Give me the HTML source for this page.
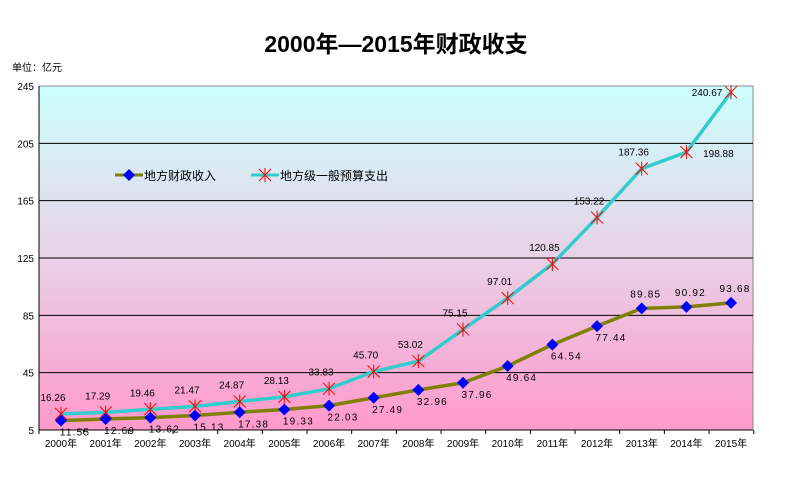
<!DOCTYPE html>
<html><head><meta charset="utf-8"><style>
body{margin:0;background:#fff;}
svg{display:block;font-family:"Liberation Sans","Noto Sans CJK SC",sans-serif;}
</style></head><body>
<svg id="s" width="792" height="486" xmlns="http://www.w3.org/2000/svg">
<defs><linearGradient id="g" x1="0" y1="0" x2="0" y2="1">
<stop offset="0" stop-color="#ccffff"/><stop offset="0.45" stop-color="#e6d6e8"/><stop offset="1" stop-color="#ff99cc"/></linearGradient></defs>
<text x="396" y="52" font-size="23" font-weight="bold" text-anchor="middle" font-family="'Liberation Sans','Noto Sans CJK SC',sans-serif">2000年—2015年财政收支</text>
<text x="12" y="71" font-size="10">单位：亿元</text>
<rect x="39" y="86" width="714" height="344" fill="url(#g)" stroke="#888"/>
</svg>
<script>
const NS="http://www.w3.org/2000/svg",s=document.getElementById('s');
function el(t,a,txt){const e=document.createElementNS(NS,t);for(const k in a)e.setAttribute(k,a[k]);if(txt!=null)e.textContent=txt;s.appendChild(e);return e;}
const Y=v=>430-(v-5)*344/240, X=i=>61+i*44.67;
[5,45,85,125,165,205,245].forEach(v=>{const y=Y(v);if(v>5&&v<245)el('line',{x1:39,x2:753,y1:y,y2:y,stroke:'#000'});el('text',{x:34,y:y+4,'font-size':10,'text-anchor':'end'},v);});
el('line',{x1:39,x2:39,y1:86,y2:430,stroke:'#000'});
el('line',{x1:39,x2:753,y1:430,y2:430,stroke:'#000'});
for(let k=0;k<=16;k++){const x=39+k*44.67;el('line',{x1:x,x2:x,y1:430,y2:434,stroke:'#000'});}
for(let i=0;i<16;i++)el('text',{x:X(i),y:447,'font-size':10,'text-anchor':'middle'},(2000+i)+'年');
const R=[11.55,12.69,13.62,15.13,17.38,19.33,22.03,27.49,32.96,37.96,49.64,64.54,77.44,89.85,90.92,93.68];
const E=[16.26,17.29,19.46,21.47,24.87,28.13,33.83,45.70,53.02,75.15,97.01,120.85,153.22,187.36,198.88,240.67];
el('polyline',{points:E.map((v,i)=>X(i)+','+Y(v)).join(' '),fill:'none',stroke:'#33cccc','stroke-width':3.5});
el('polyline',{points:R.map((v,i)=>X(i)+','+Y(v)).join(' '),fill:'none',stroke:'#808000','stroke-width':3.5});
E.forEach((v,i)=>{const x=X(i),y=Y(v);el('path',{d:`M${x-6},${y-6}L${x+6},${y+6}M${x-6},${y+6}L${x+6},${y-6}M${x},${y-7}V${y+7}`,stroke:'#f00','stroke-width':1});
let lx=x-8,ly=y-13;if(i==14){lx=x+32;ly=y+5;}if(i==15){lx=x-24;ly=y+4;}
el('text',{x:lx,y:ly,'font-size':10,'text-anchor':'middle'},v.toFixed(2));});
R.forEach((v,i)=>{const x=X(i),y=Y(v);el('path',{d:`M${x},${y-6}L${x+6},${y}L${x},${y+6}L${x-6},${y}Z`,fill:'#0000ff'});
let lx=x+14,ly=y+15;if(i>=13){lx=x+4;ly=y-11;}
el('text',{x:lx,y:ly,'font-size':10,'text-anchor':'middle','letter-spacing':'1.2'},v.toFixed(2));});
el('line',{x1:115,x2:143,y1:175,y2:175,stroke:'#808000','stroke-width':3});
el('path',{d:'M129,169L135,175L129,181L123,175Z',fill:'#0000ff'});
el('text',{x:144,y:180,'font-size':12},'地方财政收入');
el('line',{x1:251,x2:279,y1:175,y2:175,stroke:'#33cccc','stroke-width':3});
el('path',{d:'M259,169L271,181M259,181L271,169M265,168V182',stroke:'#f00'});
el('text',{x:280,y:180,'font-size':12},'地方级一般预算支出');
</script>
</body></html>
